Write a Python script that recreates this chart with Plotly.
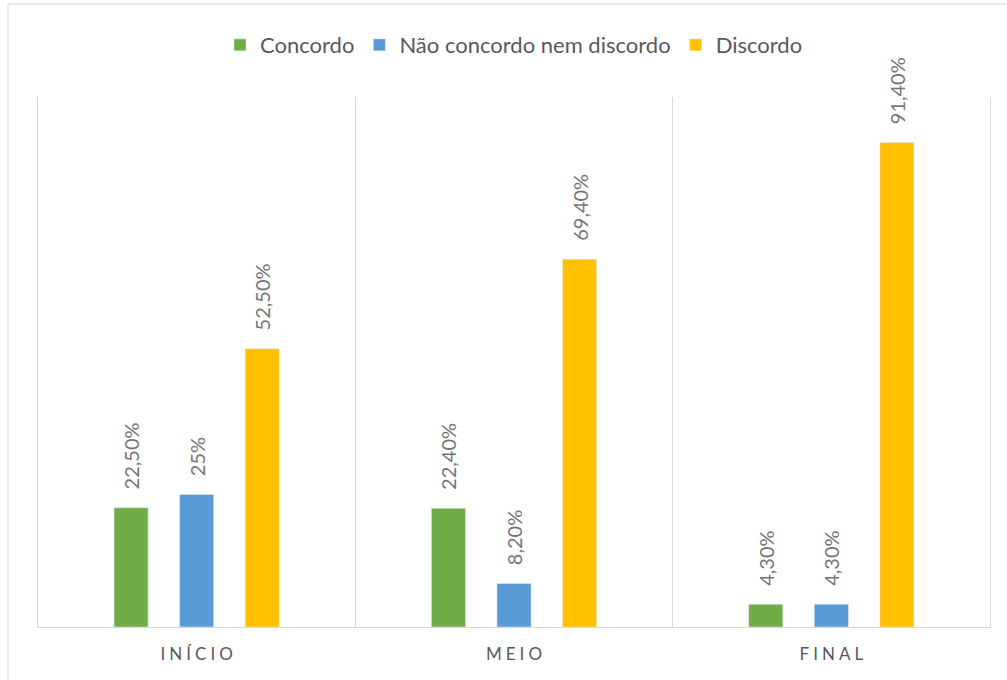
import plotly.graph_objects as go

categories = ["INÍCIO", "MEIO", "FINAL"]
series_names = ["Concordo", "Não concordo nem discordo", "Discordo"]
concordo = [22.5, 22.4, 4.3]
neutro = [25.0, 8.2, 4.3]
discordo = [52.5, 69.4, 91.4]
labels_concordo = ["22,50%", "22,40%", "4,30%"]
labels_neutro = ["25%", "8,20%", "4,30%"]
labels_discordo = ["52,50%", "69,40%", "91,40%"]
colors = ["#70AD47", "#5B9BD5", "#FFC000"]

FONT = "Lato"
GRAY = "#595959"
LABEL_GRAY = "#767676"
GRID = "#D9D9D9"

fig = go.Figure()
for name, vals, labs, col in zip(series_names,
                                 [concordo, neutro, discordo],
                                 [labels_concordo, labels_neutro, labels_discordo],
                                 colors):
    fig.add_trace(go.Bar(
        x=categories, y=vals, name=name, marker_color=col,
        text=labs, texttemplate="\u00a0\u00a0\u00a0%{text}",
        textposition="outside", textangle=-90, constraintext="none",
        textfont=dict(family=FONT, size=20, color=LABEL_GRAY),
        cliponaxis=False, hoverinfo="x+y+name",
    ))

fig.update_layout(
    width=1007, height=680,
    margin=dict(l=38, r=17, t=97, b=53, autoexpand=False),
    paper_bgcolor="white", plot_bgcolor="white",
    barmode="group", bargap=0.38, bargroupgap=0.48,
    font=dict(family=FONT, color=GRAY),
    legend=dict(orientation="h", x=0.5, xanchor="center", y=1.098, yanchor="middle",
                font=dict(family=FONT, size=22, color=GRAY),
                itemwidth=30, traceorder="normal"),
    xaxis=dict(showgrid=True, gridcolor=GRID, gridwidth=1, tickson="boundaries",
               ticks="", showline=True, linecolor=GRID, linewidth=1,
               ticklabelstandoff=12,
               tickfont=dict(family=FONT, size=17, color=GRAY), range=[-0.5, 2.5]),
    yaxis=dict(range=[0, 100], showgrid=False, showticklabels=False, ticks="",
               showline=True, mirror=True, linecolor=GRID, linewidth=1, zeroline=False),
    shapes=[dict(type="rect", xref="paper", yref="paper",
                 x0=-0.0315, x1=1.05, y0=-0.2, y1=1.1755,
                 line=dict(color=GRID, width=1), layer="below")],
)

post = """
document.body.style.margin='0';
document.querySelectorAll('.xtick text').forEach(function(t){
  t.style.letterSpacing='4px';
  t.setAttribute('dx','2');
});
"""

fig.write_html("out.html", post_script=post, config={"displayModeBar": False})
